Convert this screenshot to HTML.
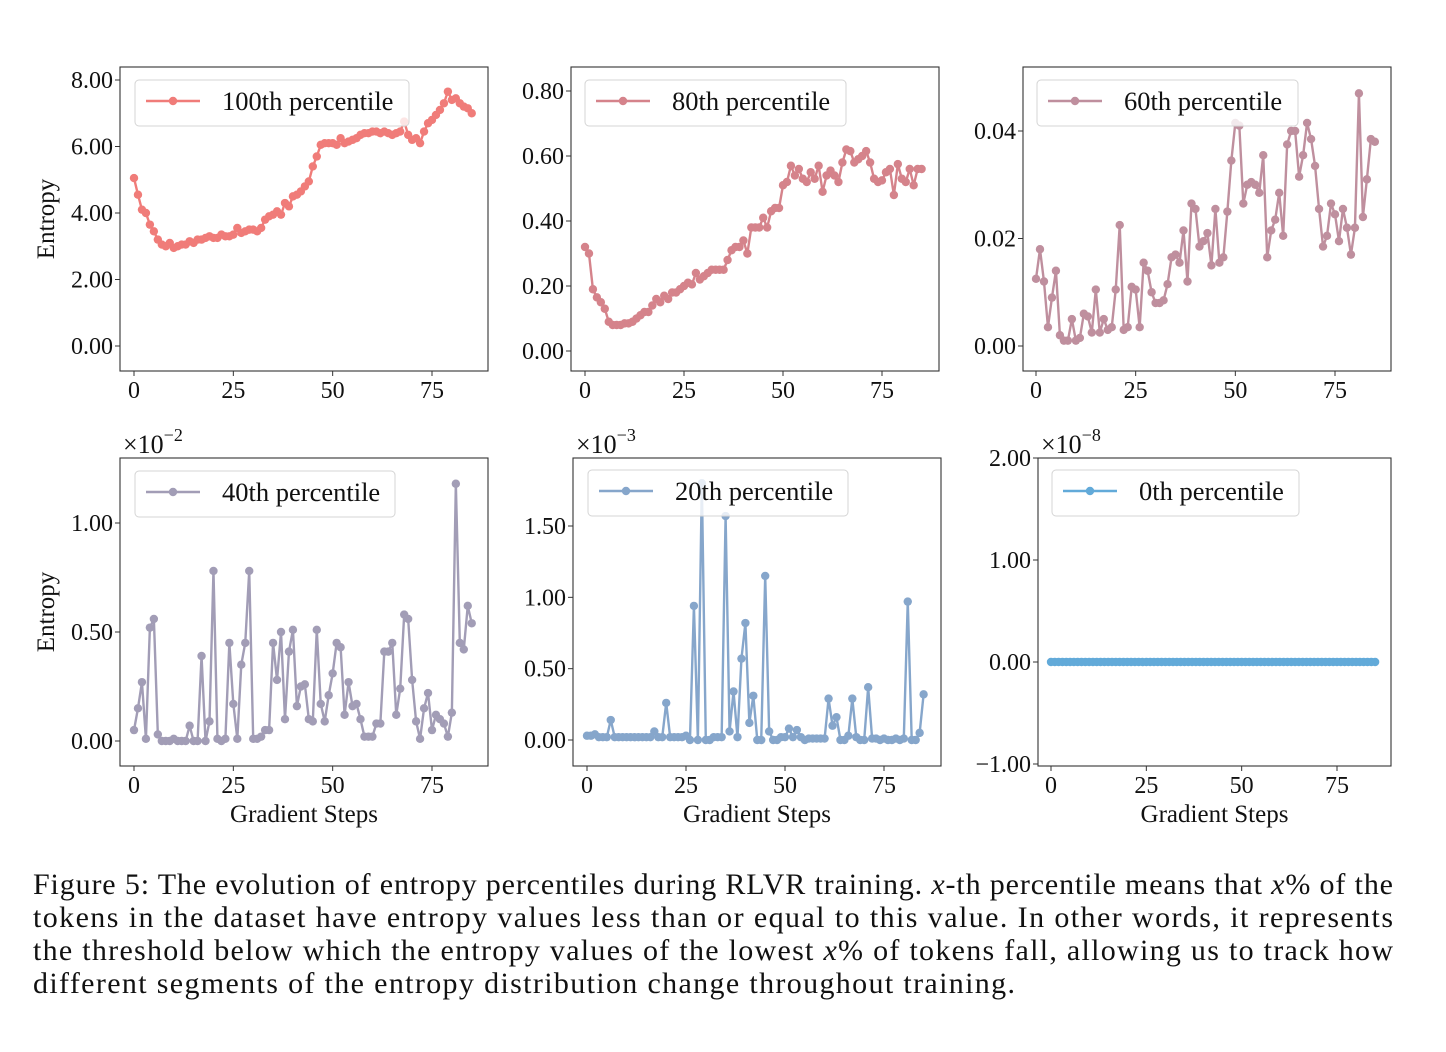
<!DOCTYPE html>
<html><head><meta charset="utf-8"><style>
body{margin:0;background:#fff}
svg{display:block;font-family:"Liberation Serif",serif}
</style></head><body>
<svg id="fig" width="1446" height="1052" viewBox="0 0 1446 1052" xmlns="http://www.w3.org/2000/svg">
<rect width="1446" height="1052" fill="#fff"/>
<g font-size="30" fill="#111">
<text x="33" y="894" textLength="1360" lengthAdjust="spacing">Figure 5: The evolution of entropy percentiles during RLVR training. <tspan font-style="italic">x</tspan>-th percentile means that <tspan font-style="italic">x</tspan>% of the</text>
<text x="33" y="927" textLength="1360" lengthAdjust="spacing">tokens in the dataset have entropy values less than or equal to this value. In other words, it represents</text>
<text x="33" y="960" textLength="1360" lengthAdjust="spacing">the threshold below which the entropy values of the lowest <tspan font-style="italic">x</tspan>% of tokens fall, allowing us to track how</text>
<text x="33" y="993" textLength="982" lengthAdjust="spacing">different segments of the entropy distribution change throughout training.</text>
</g>
</svg>
<script>
const p100=[5.05,4.55,4.1,4.0,3.65,3.45,3.2,3.05,3.0,3.1,2.95,3.0,3.05,3.05,3.15,3.1,3.2,3.2,3.25,3.3,3.25,3.25,3.35,3.3,3.3,3.35,3.55,3.4,3.45,3.5,3.5,3.45,3.55,3.8,3.9,3.95,4.05,3.95,4.3,4.2,4.5,4.55,4.65,4.8,4.95,5.4,5.7,6.05,6.1,6.1,6.1,6.05,6.25,6.1,6.15,6.2,6.25,6.35,6.4,6.4,6.45,6.45,6.4,6.45,6.4,6.35,6.4,6.45,6.75,6.35,6.2,6.25,6.1,6.45,6.7,6.8,6.95,7.1,7.3,7.65,7.4,7.45,7.3,7.2,7.15,7.0];
const p80=[0.32,0.30,0.19,0.165,0.15,0.13,0.09,0.08,0.08,0.08,0.085,0.085,0.09,0.10,0.11,0.12,0.12,0.14,0.16,0.15,0.17,0.16,0.18,0.18,0.19,0.20,0.21,0.205,0.24,0.22,0.23,0.24,0.25,0.25,0.25,0.25,0.28,0.31,0.32,0.32,0.34,0.30,0.38,0.38,0.38,0.41,0.38,0.43,0.44,0.44,0.51,0.52,0.57,0.54,0.56,0.53,0.52,0.55,0.53,0.57,0.49,0.54,0.555,0.54,0.52,0.58,0.62,0.615,0.58,0.59,0.60,0.615,0.58,0.53,0.52,0.525,0.55,0.56,0.48,0.575,0.53,0.52,0.56,0.51,0.56,0.56];
const p60=[1.25,1.8,1.2,0.35,0.9,1.4,0.2,0.1,0.1,0.5,0.1,0.15,0.6,0.55,0.25,1.05,0.25,0.5,0.3,0.35,1.05,2.25,0.3,0.35,1.1,1.05,0.35,1.55,1.4,1.0,0.8,0.8,0.85,1.15,1.65,1.7,1.55,2.15,1.2,2.65,2.55,1.85,1.95,2.1,1.5,2.55,1.55,1.65,2.5,3.45,4.15,4.1,2.65,3.0,3.05,3.0,2.85,3.55,1.65,2.15,2.35,2.85,2.05,3.75,4.0,4.0,3.15,3.55,4.15,3.85,3.35,2.55,1.85,2.05,2.65,2.45,1.95,2.55,2.2,1.7,2.2,4.7,2.4,3.1,3.85,3.8];
const p40=[0.05,0.15,0.27,0.01,0.52,0.56,0.03,0.0,0.0,0.0,0.01,0.0,0.0,0.0,0.07,0.0,0.0,0.39,0.0,0.09,0.78,0.01,0.0,0.01,0.45,0.17,0.01,0.35,0.45,0.78,0.01,0.01,0.02,0.05,0.05,0.45,0.28,0.5,0.1,0.41,0.51,0.16,0.25,0.26,0.10,0.09,0.51,0.17,0.09,0.21,0.31,0.45,0.43,0.12,0.27,0.16,0.17,0.10,0.02,0.02,0.02,0.08,0.08,0.41,0.41,0.45,0.12,0.24,0.58,0.56,0.28,0.09,0.01,0.15,0.22,0.05,0.12,0.10,0.08,0.02,0.13,1.18,0.45,0.42,0.62,0.54];
const p20=[0.03,0.03,0.04,0.02,0.02,0.02,0.14,0.02,0.02,0.02,0.02,0.02,0.02,0.02,0.02,0.02,0.02,0.06,0.02,0.02,0.26,0.02,0.02,0.02,0.02,0.03,0.0,0.94,0.0,1.8,0.0,0.0,0.02,0.02,0.02,1.57,0.06,0.34,0.02,0.57,0.82,0.12,0.31,0.0,0.0,1.15,0.06,0.0,0.0,0.02,0.02,0.08,0.02,0.07,0.02,0.0,0.01,0.01,0.01,0.01,0.01,0.29,0.10,0.16,0.0,0.0,0.03,0.29,0.02,0.0,0.0,0.37,0.01,0.01,0.0,0.01,0.0,0.0,0.01,0.0,0.01,0.97,0.0,0.0,0.05,0.32];
const p0=new Array(86).fill(0);
const xTicks=[0,25,50,75];
const yTicks1=[0,2,4,6,8], yLab1=["0.00","2.00","4.00","6.00","8.00"];
const yTicks2=[0,0.2,0.4,0.6,0.8], yLab2=["0.00","0.20","0.40","0.60","0.80"];
const yTicks3=[0,2,4], yLab3=["0.00","0.02","0.04"];
const yTicks4=[0,0.5,1.0], yLab4=["0.00","0.50","1.00"];
const yTicks5=[0,0.5,1.0,1.5], yLab5=["0.00","0.50","1.00","1.50"];
const yTicks6=[-1,0,1,2], yLab6=["\u22121.00","0.00","1.00","2.00"];

const NS="http://www.w3.org/2000/svg";
const svg=document.getElementById('fig');
function mk(tag,attrs,parent){const e=document.createElementNS(NS,tag);for(const k in attrs)e.setAttribute(k,attrs[k]);(parent||svg).appendChild(e);return e;}

const panels=[
 {key:'100th',data:p100,color:'#f07c79',box:[120,67,488,371],x0:134,x1:432,yv0:0,yp0:346,yv1:8,yp1:80,ticks:yTicks1,labs:yLab1,leg:[135,80,409,126],ylabel:true,xlabel:false,exp:null},
 {key:'80th',data:p80,color:'#d5838b',box:[571,67,939,371],x0:585,x1:882,yv0:0,yp0:351,yv1:0.8,yp1:91,ticks:yTicks2,labs:yLab2,leg:[585,80,846,126],ylabel:false,xlabel:false,exp:null},
 {key:'60th',data:p60,color:'#bf8f9e',box:[1023,67,1391,371],x0:1036,x1:1335,yv0:0,yp0:346,yv1:4,yp1:131,ticks:yTicks3,labs:yLab3,leg:[1037,80,1298,126],ylabel:false,xlabel:false,exp:null},
 {key:'40th',data:p40,color:'#a29db6',box:[120,458,488,766],x0:134,x1:432,yv0:0,yp0:741,yv1:1,yp1:523,ticks:yTicks4,labs:yLab4,leg:[135,471,395,517],ylabel:true,xlabel:true,exp:'\u22122'},
 {key:'20th',data:p20,color:'#86a6cb',box:[573,458,941,766],x0:587,x1:884,yv0:0,yp0:740,yv1:1.5,yp1:526,ticks:yTicks5,labs:yLab5,leg:[588,470,848,516],ylabel:false,xlabel:true,exp:'\u22123'},
 {key:'0th',data:p0,color:'#62aad9',box:[1038,458,1391,766],x0:1051,x1:1337,yv0:0,yp0:662,yv1:1,yp1:560,ticks:yTicks6,labs:yLab6,leg:[1052,470,1299,516],ylabel:false,xlabel:true,exp:'\u22128'}
];

panels.forEach(p=>{
  const g=mk('g',{});
  
  
  const [bx0,by0,bx1,by1]=p.box;
  const sx=v=>p.x0+(v)*(p.x1-p.x0)/75;
  const sy=v=>p.yp0+(v-p.yv0)*(p.yp1-p.yp0)/(p.yv1-p.yv0);
  xTicks.forEach(t=>{
    const x=sx(t);
    const tk=mk('line',{x1:x,y1:by1,x2:x,y2:by1+5,stroke:'#333','stroke-width':1},g);
    
    
    const tl=mk('text',{x:x,y:by1+27,'text-anchor':'middle','font-size':24,fill:'#111'},g);
    tl.textContent=t;
    
    
  });
  p.ticks.forEach((t,i)=>{
    const y=sy(t);
    const tk=mk('line',{x1:bx0-5,y1:y,x2:bx0,y2:y,stroke:'#333','stroke-width':1},g);
    
    
    const tl=mk('text',{x:bx0-7,y:y+8,'text-anchor':'end','font-size':24,fill:'#111'},g);
    tl.textContent=p.labs[i];
    
    
  });
  const pts=p.data.map((v,i)=>sx(i)+','+sy(v)).join(' ');
  const ln=mk('polyline',{points:pts,fill:'none',stroke:p.color,'stroke-width':2.4},g);
  
  
  p.data.forEach((v,i)=>{
    const c=mk('circle',{cx:sx(i),cy:sy(v),r:4.2,fill:p.color},g);
    
    
  });
  const fr=mk('rect',{x:bx0,y:by0,width:bx1-bx0,height:by1-by0,fill:'none',stroke:'#333','stroke-width':1.1},g);
  
  
  const [lx0,ly0,lx1,ly1]=p.leg;
  const lg=mk('g',{},g);
  
  
  mk('rect',{x:lx0,y:ly0,width:lx1-lx0,height:ly1-ly0,rx:4,fill:'rgba(255,255,255,0.8)',stroke:'#d4d4d4','stroke-width':1},lg);
  const cy=(ly0+ly1)/2-2;
  mk('line',{x1:lx0+11,y1:cy,x2:lx0+65,y2:cy,stroke:p.color,'stroke-width':2.4},lg);
  mk('circle',{cx:lx0+38,cy:cy,r:4.2,fill:p.color},lg);
  const lt=mk('text',{x:lx0+87,y:cy+9,'font-size':26.5,fill:'#111'},lg);
  lt.textContent=p.key+' percentile';
  
  
  if(p.ylabel){
    const cyl=(by0+by1)/2;
    const yl=mk('text',{x:0,y:0,transform:`translate(54,${cyl}) rotate(-90)`,'text-anchor':'middle','font-size':25,fill:'#111'},g);
    yl.textContent='Entropy';
    
    
  }
  if(p.xlabel){
    const xl=mk('text',{x:(bx0+bx1)/2,y:by1+56,'text-anchor':'middle','font-size':25,fill:'#111'},g);
    xl.textContent='Gradient Steps';
    
    
  }
  if(p.exp){
    const ex=mk('text',{x:bx0+3,y:by0-5,'font-size':26,fill:'#111'},g);
    ex.textContent='\u00d710';
    const sup=mk('tspan',{dy:-12,'font-size':18},ex);
    sup.textContent=p.exp;
    
    
  }
});
</script>
</body></html>
